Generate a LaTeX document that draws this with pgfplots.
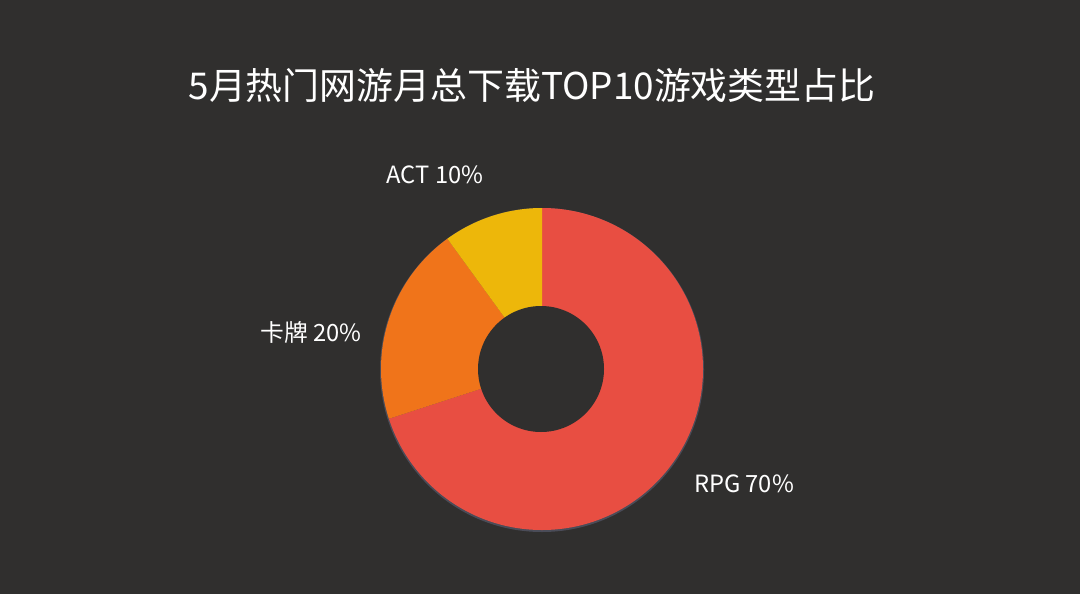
\documentclass[border=0pt]{standalone}
\usepackage{pgfplots}
\usepackage{pgfplotstable}
\pgfplotsset{compat=1.18}
\usepackage{fontspec}
\setmainfont{Noto Sans CJK SC}

\definecolor{bg}{HTML}{302F2E}
\definecolor{rim}{HTML}{4A4C58}
\definecolor{cRPG}{HTML}{E84E42}
\definecolor{cCard}{HTML}{F0741A}
\definecolor{cACT}{HTML}{EDB70A}

% share of each game type, in percent
\pgfplotstableread[col sep=comma]{
label,value,color
RPG,70,cRPG
卡牌,20,cCard
ACT,10,cACT
}\piedata

\begin{document}
\begin{tikzpicture}
  \fill[bg] (0,0) rectangle (21.6cm,11.88cm);
  \useasboundingbox (0,0) rectangle (21.6cm,11.88cm);

  % start/end angle of each slice, clockwise from 12 o'clock
  \pgfplotstablegetrowsof{\piedata}
  \pgfmathtruncatemacro\lastrow{\pgfplotsretval-1}
  \xdef\curangle{90}
  \foreach \i in {0,...,\lastrow}{
    \pgfplotstablegetelem{\i}{value}\of\piedata
    \pgfmathsetmacro\endangle{\curangle-3.6*\pgfplotsretval}
    \expandafter\xdef\csname sa\i\endcsname{\curangle}
    \expandafter\xdef\csname ea\i\endcsname{\endangle}
    \xdef\curangle{\endangle}
    \pgfplotstablegetelem{\i}{color}\of\piedata
    \expandafter\xdef\csname col\i\endcsname{\pgfplotsretval}
  }

  \begin{axis}[
    at={(0,0)}, anchor=south west,
    scale only axis,
    width=21.6cm, height=11.88cm,
    xmin=0, xmax=1080, ymin=0, ymax=594,
    hide axis, clip=false
  ]
    % faint rim below the ring
    \fill[rim] (axis cs:542,224) circle[radius=3.24cm];
    \pgfplotsinvokeforeach{0,...,\lastrow}{
      \fill[fill=\csname col#1\endcsname]
        (axis cs:542,225) -- +(\csname sa#1\endcsname:3.22cm)
        arc[start angle=\csname sa#1\endcsname,
            end angle=\csname ea#1\endcsname, radius=3.22cm] -- cycle;
    }
    \fill[bg] (axis cs:541,225) circle[radius=1.26cm];

    \node[white, font=\fontsize{21}{26}\selectfont]
      at (axis cs:532,508) {5月热门网游月总下载TOP10游戏类型占比};
    \node[white, font=\fontsize{13.5}{16}\selectfont]
      at (axis cs:435,419) {ACT 10\%};
    \node[white, font=\fontsize{13.5}{16}\selectfont]
      at (axis cs:311,262) {卡牌 20\%};
    \node[white, font=\fontsize{13.5}{16}\selectfont]
      at (axis cs:744,110) {RPG 70\%};
  \end{axis}
\end{tikzpicture}
\end{document}
